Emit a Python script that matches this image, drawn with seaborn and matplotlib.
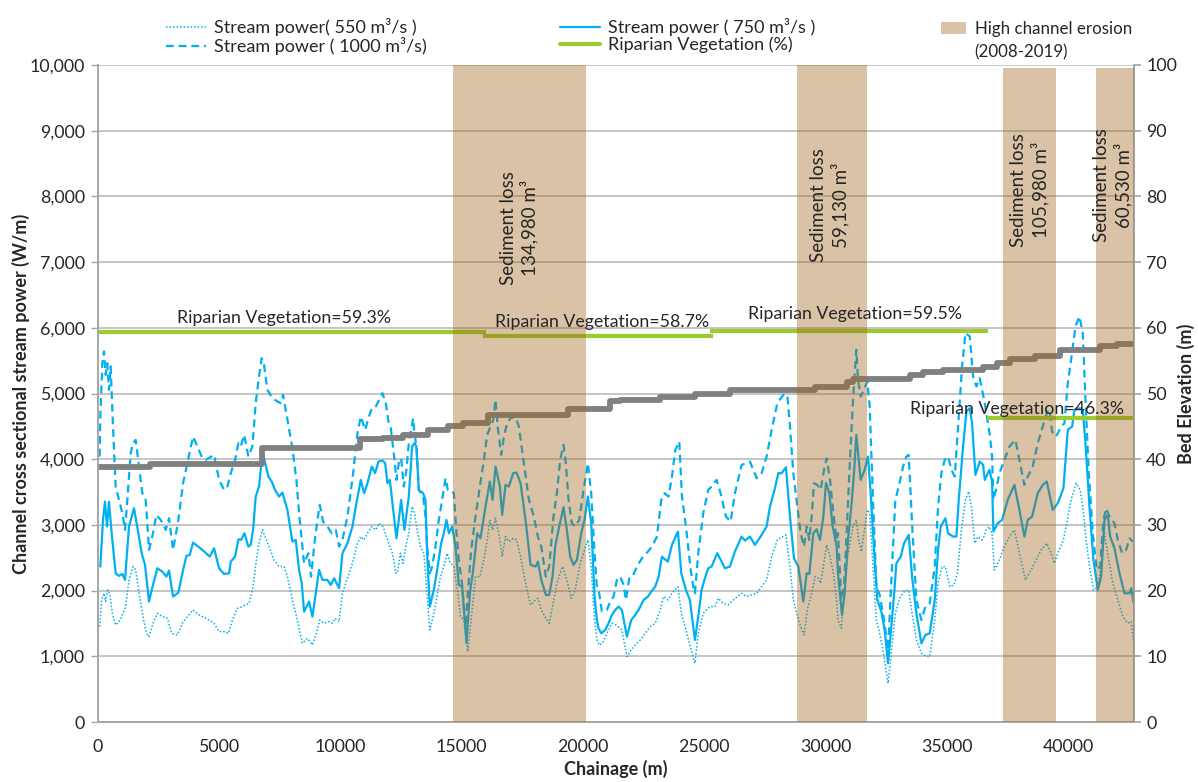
import numpy as np
import pandas as pd
import matplotlib
matplotlib.use("Agg")
import matplotlib.pyplot as plt
import seaborn as sns
from matplotlib.patches import Patch
from matplotlib.lines import Line2D

# ---------------- data ----------------
# Stream power 750 m3/s (solid)
ch_750 = [111, 221, 303, 386, 468, 578, 743, 881, 1018, 1128, 1293, 1499, 1678, 1816, 1953, 2118, 2228, 2462, 2668, 2833,
          2943, 3108, 3328, 3493, 3658, 3796, 3933, 4318, 4621, 4799, 5006, 5212, 5418, 5487, 5666, 5803, 5913, 6051,
          6213, 6309, 6406, 6516, 6653, 6791, 6859, 7038, 7176, 7313, 7478, 7616, 7822, 8028, 8166, 8303, 8413, 8509,
          8716, 8853, 8991, 9128, 9266, 9472, 9609, 9747, 9953, 10091, 10297, 10503, 10641, 10847, 10984, 11122, 11301,
          11438, 11576, 11741, 11851, 11947, 12043,
          12317, 12413, 12510, 12647, 12826, 12963, 13060, 13142, 13238, 13417, 13513, 13582, 13692, 13857, 13995, 14160,
          14270, 14380, 14476, 14613, 14751, 14888, 15026, 15122, 15205, 15342, 15480, 15645, 15782, 15988, 16167, 16277,
          16401, 16580, 16676, 16813, 16951, 17130, 17267, 17432, 17638, 17845, 18051, 18147, 18285,
          18475, 18613, 18750, 18860, 19025, 19204, 19341, 19479, 19616, 19754, 19933, 20070, 20208, 20345, 20483, 20579,
          20648, 20758, 20923, 21060, 21198, 21335, 21473, 21610, 21816, 21995, 22160, 22298, 22504, 22683, 22820, 22985,
          23123, 23260, 23329, 23508, 23673, 23920, 24058, 24250,
          24413, 24619, 24757, 24894, 25032, 25169, 25307, 25540, 25719, 25857, 26063, 26269, 26544, 26682, 26888, 27094,
          27328, 27575, 27713, 27919, 28057, 28194, 28373, 28538, 28703, 28882, 29088, 29226, 29336, 29500, 29638, 29776,
          29913, 30023, 30161, 30298, 30463,
          30517, 30682, 30792, 30930, 31067, 31177, 31273, 31452, 31617, 31754, 31864, 32030, 32140, 32305, 32442, 32580,
          32717, 32855, 32923, 33102, 33240, 33432, 33570, 33748, 33955, 34120, 34298, 34505, 34642, 34752, 34945, 35055,
          35261, 35398, 35495, 35673, 35811, 35948, 36045, 36182, 36361, 36498, 36567,
          36758, 36868, 36923, 37101, 37280, 37514, 37789, 37995, 38201, 38339, 38518, 38751, 38958, 39123, 39370, 39576,
          39810, 39989, 40168, 40264, 40470, 40608, 40718, 40883, 41048, 41226, 41364, 41501, 41639, 41735, 41914, 42120,
          42326, 42533, 42601, 42711]
sp_750 = [2366, 3076, 3355, 2975, 3355, 2873, 2264, 2224, 2254, 2163, 2975, 3254, 2873, 2569, 2391, 1833, 2010, 2340, 2289, 2213,
          2305, 1909, 1970, 2264, 2528, 2543, 2731, 2619, 2518, 2645, 2340, 2254, 2264, 2442, 2518, 2782, 2772, 2873,
          2670, 2696, 2924, 3432, 3584, 4091, 4015, 3736, 3660, 3533, 3432, 3492, 3228, 2746, 2772, 2315, 2112, 1680,
          1833, 1604, 1959, 2315, 2163, 2163, 2086, 2188, 2036, 2569, 2721, 2975, 3279, 3685, 3482, 3635, 3888,
          3787, 3964, 3980, 3939, 3635, 3685,
          2797, 3076, 3381, 2924, 3432, 4193, 4244, 4193, 3533, 3482, 3381, 2569, 1756, 2010, 2315, 2721,
          2873, 3076, 2873, 2975, 2670, 2086, 2061, 1604, 1198, 1959, 2315, 2873, 2797, 3279, 3660, 3381,
          3888, 3584, 3152, 3609, 3584, 3787, 3797, 3635, 3076, 2391, 2366, 2442, 2163,
          1934, 1934, 2213, 2670, 2975, 3269, 2924, 2518, 2391, 2467, 2873, 3076, 3432, 3025, 1909, 1553,
          1426, 1350, 1401, 1503, 1630, 1706, 1756, 1706, 1300, 1553, 1630, 1706, 1858, 1909, 1985, 2061,
          2213, 2518, 2492, 2442, 2696, 2899, 2264, 2010,
          1858, 1249, 1604, 2010, 2188, 2340, 2366, 2569, 2442, 2340, 2366, 2594, 2822, 2761, 2822, 2696,
          2822, 2975, 3279, 3558, 3787, 3787, 3878, 3127, 2492, 2366, 1833, 2264, 2254, 2873, 2934, 2772,
          3127, 3635, 3482, 2975, 2670,
          2264, 1630, 1959, 2772, 3279, 3787, 4370, 3685, 3838, 4041, 3482, 2467, 1858, 1680, 1401, 894,
          1452, 2061, 2416, 2518, 2721, 2848, 2213, 1655, 1198, 1325, 1350, 1858, 2619, 2975, 3102, 2873,
          2822, 2822, 3381, 4193, 4726, 4777, 4548, 3761, 3964, 3914, 3685,
          3838, 3660, 2899, 3025, 3076, 3381, 3609, 3228, 2822, 3076, 3127, 3482, 3609, 3660, 3228, 3330,
          3558, 4447, 4497, 4751, 4777, 4751, 4244, 3279, 2467, 2010, 2213, 3076, 3152, 2822, 2645, 2264,
          1959, 1959, 2036, 1807]

# Stream power 1000 m3/s (dashed)
ch_1000 = [83, 111, 193, 262, 331, 399, 468, 537, 633, 743, 881, 1018, 1128, 1224, 1362, 1458, 1568, 1706, 1843, 1981,
           2118, 2283, 2421, 2599, 2806, 2943, 3108, 3328, 3521, 3699, 3933, 4112, 4318, 4456, 4799, 5006, 5212, 5349,
           5487, 5666, 5803, 5899, 6037,
           6103, 6213, 6378, 6516, 6653, 6763, 6859, 6997, 7203, 7409, 7547, 7643, 7822, 8028, 8193, 8303, 8413, 8509,
           8688, 8798, 8922, 9059, 9156, 9293, 9472, 9651, 9816, 9953, 10091, 10297, 10531, 10709, 10847, 11026, 11163,
           11301, 11466, 11603, 11741, 11878, 11988, 12084, 12222,
           12317, 12413, 12510, 12620, 12729, 12826, 12922, 13005, 13060, 13142, 13238, 13417, 13513, 13582, 13692,
           13788, 13926, 14063, 14201, 14338, 14435, 14545, 14682, 14792, 14888, 15026, 15163, 15260, 15397, 15576,
           15755, 15920, 16057, 16195, 16305, 16401, 16497, 16635, 16745, 16882, 17020, 17226, 17363, 17570, 17776,
           17982, 18147, 18285,
           18475, 18613, 18791, 18929, 19066, 19204, 19300, 19410, 19548, 19685, 19850, 20029, 20208, 20345, 20483,
           20579, 20675, 20785, 20991, 21129, 21266, 21404, 21541, 21679, 21775, 21913, 22050, 22229, 22435, 22683,
           22848, 23054, 23233, 23370, 23535, 23673, 23810, 23975, 24085, 24250, 24429,
           24551, 24619, 24757, 24963, 25169, 25307, 25513, 25678, 25898, 26091, 26269, 26544, 26751, 26888, 27026,
           27163, 27369, 27576, 27782, 28016, 28263, 28428, 28538, 28676, 28841, 28978, 29116, 29226, 29336, 29432,
           29528, 29666, 29803, 29941, 30051, 30188, 30326, 30463,
           30517, 30655, 30765, 30861, 30998, 31136, 31273, 31342, 31452, 31590, 31727, 31823, 31961, 32098, 32236,
           32415, 32580, 32745, 32882, 33020, 33198, 33336, 33432, 33570, 33748, 33955, 34120, 34298, 34505, 34642,
           34780, 34917, 35055, 35192, 35330, 35467, 35632, 35770, 35948, 36086, 36223, 36361, 36567,
           36785, 36868, 36923, 37033, 37170, 37376, 37583, 37830, 37995, 38201, 38339, 38545, 38751, 38958, 39123,
           39233, 39343, 39508, 39714, 39851, 39989, 40126, 40305, 40470, 40608, 40718, 40855, 41020, 41185, 41323,
           41460, 41570, 41708, 41914, 42051, 42230, 42395, 42533, 42670]
sp_1000 = [4041, 4650, 5462, 5640, 5284, 5462, 5056, 5411, 4497, 3584, 3381, 3178, 2924, 3381, 4091, 4244, 4294, 3888, 3482, 3381,
           2619, 2873, 3152, 3076, 2924, 3102, 2619, 3076, 3635, 3939, 4345, 4193, 4015, 3990, 4066, 3685, 3533, 3584,
           3787, 3990, 4244, 4193, 4371,
           4244, 4041, 4193, 4853, 5259, 5538, 5437, 5056, 4929, 4878, 4853, 4980, 4599, 4168, 3685, 3178, 2772, 2416,
           2569, 2213, 2670, 3076, 3305, 3051, 2975, 2873, 2924, 2670, 2772, 3127, 3787, 4396, 4650, 4447, 4624,
           4777, 4802, 4904, 5005, 4853, 4574, 4472, 4041,
           3685, 3939, 4015, 3584, 3838, 4244, 4447, 4624, 4396, 4193, 3533, 3432, 3127, 2670, 2264,
           2366, 2670, 3076, 3381, 3711, 3533, 3533, 3482, 2873, 2467, 2086, 1452, 1959, 2619, 3127,
           3584, 3990, 4371, 4497, 4599, 4904, 4472, 4066, 4345, 4548, 4624, 4650, 4497, 3939, 3381,
           3127, 2822, 2670,
           2213, 2366, 3127, 3482, 3990, 4218, 3939, 3381, 3025, 2975, 3076, 3533, 3939, 3482, 2569,
           2061, 1959, 1680, 1706, 1833, 1909, 2163, 2213, 2086, 1858, 2188, 2213, 2366, 2492, 2594,
           2670, 2822, 3381, 3482, 3432, 3736, 4142, 4269, 3432, 2975, 2366,
           2061, 1959, 2569, 3178, 3533, 3584, 3685, 3482, 3127, 3051, 3482, 3914, 3939, 3964, 3838,
           3711, 3787, 4041, 4447, 4853, 4980, 4980, 4497, 3787, 3279, 2873, 2670, 2975, 2772, 3127,
           3635, 3609, 3533, 3838, 4015, 3685, 3178, 2772,
           2873, 1858, 2061, 2772, 3888, 4904, 5665, 5208, 4954, 5056, 5183, 4802, 3381, 2061, 1934,
           1553, 1097, 2366, 3381, 3584, 3888, 4041, 4066, 3025, 1858, 1553, 1756, 1807, 2366, 3279,
           3787, 3990, 4041, 3838, 3736, 4497, 5411, 5919, 5868, 5259, 5107, 5233, 4853,
           4345, 4041, 3381, 3533, 3787, 3990, 4193, 4294, 3990, 3609, 3736, 3888, 4244, 4497, 4701,
           4751, 4421, 4345, 4497, 4548, 5157, 5513, 6020, 6173, 5919, 4904, 3787, 2873, 2315, 2366,
           3076, 3254, 3127, 3025, 2772, 2569, 2619, 2797, 2746]

# Stream power 550 m3/s (dotted)
ch_550 = [83, 166, 262, 331, 413, 496, 606, 743, 881, 1046, 1156, 1293, 1458, 1568, 1706, 1871, 2008, 2118, 2283, 2462,
          2668, 2874, 3053, 3287, 3493, 3699, 3933, 4181, 4456, 4799, 5006, 5212, 5391, 5556, 5762, 5968,
          6241, 6406, 6543, 6653, 6791, 6928, 7093, 7272, 7478, 7684, 7822, 8028, 8166, 8303, 8441, 8647, 8853, 9018,
          9156, 9334, 9541, 9678, 9788, 9953, 10091, 10297, 10503, 10709, 10847, 10984, 11122, 11301, 11466, 11603,
          11768, 11947, 12043, 12153, 12291,
          12345, 12482, 12592, 12688, 12826, 12963, 13060, 13170, 13307, 13445, 13582, 13692, 13830, 13967, 14132,
          14270, 14407, 14545, 14682, 14847, 14957, 15095, 15260, 15397, 15576, 15755, 15920, 16057, 16167, 16277,
          16401, 16580, 16676, 16813, 16951, 17130, 17267, 17432, 17638, 17845, 18051, 18147, 18285,
          18475, 18613, 18750, 18929, 19163, 19341, 19520, 19685, 19891, 20070, 20208, 20345, 20483, 20579, 20675,
          20813, 20991, 21198, 21363, 21610, 21816, 21995, 22160, 22366, 22573, 22779, 22985, 23191, 23329, 23508,
          23673, 23920, 24058, 24250, 24429,
          24619, 24757, 24963, 25238, 25444, 25582, 25788, 25994, 26201, 26544, 26751, 26957, 27163, 27369, 27576,
          27782, 28016, 28194, 28373, 28538, 28676, 28813, 28978, 29116, 29253, 29432, 29569, 29707, 29803, 29913,
          30051, 30188, 30326, 30463,
          30517, 30655, 30792, 30930, 31136, 31273, 31370, 31480, 31590, 31727, 31823, 31961, 32098, 32236, 32415,
          32580, 32717, 32882, 33061, 33240, 33432, 33570, 33748, 33955, 34120, 34298, 34505, 34642, 34807, 34945,
          35123, 35302, 35440, 35605, 35770, 35907, 36017, 36155, 36292, 36457, 36567,
          36620, 36758, 36868, 36964, 37170, 37376, 37583, 37789, 37995, 38243, 38476, 38683, 38889, 39123, 39301,
          39439, 39576, 39810, 39920, 40126, 40333, 40498, 40608, 40745, 40883, 41048, 41226, 41364, 41501, 41680,
          41845, 42051, 42258, 42464, 42601, 42711]
sp_550 = [1452, 1858, 1959, 1833, 2010, 1959, 1655, 1477, 1528, 1655, 1756, 2163, 2366, 2315, 1959, 1604, 1350, 1300, 1503, 1655,
          1604, 1579, 1350, 1325, 1503, 1604, 1706, 1630, 1579, 1503, 1376, 1376, 1350, 1553, 1731, 1756,
          1807, 2061, 2467, 2721, 2924, 2797, 2645, 2467, 2366, 2366, 2213, 1858, 1655, 1426, 1198, 1274, 1173, 1350,
          1553, 1503, 1528, 1503, 1579, 1528, 1959, 2188, 2416, 2721, 2822, 2772, 2873, 2975, 2924, 3025,
          2975, 2772, 2670, 2569, 2264,
          2264, 2569, 2416, 2645, 2873, 3279, 3178, 2924, 2670, 2569, 1909, 1401, 1604, 1858, 2213,
          2366, 2569, 2416, 2366, 1959, 1604, 1553, 1071, 1553, 2213, 2213, 2467, 2772, 3076, 2924,
          3102, 2772, 2518, 2822, 2746, 2797, 2772, 2518, 2112, 1782, 1858, 1883, 1706,
          1579, 1503, 1756, 2112, 2366, 2163, 1883, 2010, 2416, 2619, 2772, 2366, 1553, 1249, 1173,
          1198, 1350, 1503, 1477, 1401, 995, 1097, 1173, 1249, 1350, 1452, 1503, 1706, 1909, 1858,
          1959, 2061, 1655, 1401, 1148,
          894, 1350, 1655, 1756, 1756, 1883, 1807, 1782, 1858, 1959, 1909, 1934, 1959, 2061, 2163,
          2518, 2772, 2812, 2848, 2366, 1858, 1655, 1452, 1325, 1706, 1959, 2213, 2188, 2112, 2366,
          2696, 2518, 2264, 1858,
          1553, 1426, 2061, 2569, 2975, 3076, 2772, 2594, 2873, 3228, 3178, 2366, 1553, 1350, 995,
          589, 1046, 1655, 1883, 1985, 2010, 1655, 1249, 1046, 1005, 995, 1553, 2112, 2366, 2366,
          2061, 2086, 2264, 2924, 3381, 3508, 3279, 2721, 2822, 2772, 2848,
          2924, 2975, 2873, 2315, 2467, 2670, 2822, 2924, 2569, 2163, 2315, 2467, 2619, 2721, 2569,
          2416, 2569, 2772, 2975, 3381, 3635, 3533, 3279, 2772, 2366, 2010, 2061, 2366, 2873, 2467,
          2112, 1858, 1604, 1503, 1528, 1198]

# Bed elevation (m), step profile
bed_ch = [0, 2144, 6763, 10804, 11750, 12577, 13608, 14433, 15052, 16082, 19400, 21110, 21530, 23175, 24620, 26060,
          29570, 30890, 31130, 33480, 34020, 34850, 36490, 37070, 37610, 38640, 39670, 41320, 42020, 42700]
bed_el = [38.8, 39.3, 41.7, 43.1, 43.3, 43.7, 44.4, 45.0, 45.5, 46.7, 47.7, 48.8, 49.0, 49.5, 49.9, 50.6,
          51.0, 51.8, 52.2, 52.8, 53.2, 53.6, 54.1, 54.7, 55.2, 55.7, 56.6, 57.2, 57.6, 57.6]

# Riparian vegetation (%) segments
rip_start = [0, 15890, 25260, 36640]
rip_end = [15990, 25370, 36700, 42700]
rip_val = [59.3, 58.7, 59.5, 46.3]
rip_labels = ["Riparian Vegetation=59.3%", "Riparian Vegetation=58.7%",
              "Riparian Vegetation=59.5%", "Riparian Vegetation=46.3%"]

# High channel erosion zones
ero_start = [14660, 28810, 37300, 41150]
ero_end = [20140, 31700, 39520, 42700]
ero_top = [10000, 10000, 9960, 9960]
ero_loss = ["134,980", "59,130", "105,980", "60,530"]

x_ticks = [0, 5000, 10000, 15000, 20000, 25000, 30000, 35000, 40000]
y_ticks = [0, 1000, 2000, 3000, 4000, 5000, 6000, 7000, 8000, 9000, 10000]
y2_ticks = [0, 10, 20, 30, 40, 50, 60, 70, 80, 90, 100]

# ---------------- style ----------------
sns.set_theme(style="white")
plt.rcParams["font.family"] = ["Lato", "DejaVu Sans"]
BLUE = "#00B0F0"
GREEN = "#9BCB2E"
GRAY = "#808080"
AXC = "#A6A6A6"
TXT = "#262626"

fig = plt.figure(figsize=(11.98, 7.82), dpi=100)
ax = fig.add_axes([0.0815, 0.0767, 0.8647, 0.8402])

ax.grid(axis="y", color="#C0C0C0", lw=1.3, zorder=0)
ax.set_axisbelow(True)

sns.lineplot(x=ch_550, y=sp_550, ax=ax, color=BLUE, lw=1.1, linestyle=(0, (1, 1.3)), errorbar=None, sort=False)
sns.lineplot(x=ch_1000, y=sp_1000, ax=ax, color=BLUE, lw=1.6, linestyle=(0, (3.5, 2.2)), errorbar=None, sort=False)
sns.lineplot(x=ch_750, y=sp_750, ax=ax, color=BLUE, lw=1.6, errorbar=None, sort=False)

ax.set_xlim(0, 42700)
ax.set_ylim(0, 10000)
ax.set_xticks(x_ticks)
ax.set_xticklabels([str(v) for v in x_ticks])
ax.set_yticks(y_ticks)
ax.set_yticklabels([f"{v:,}" for v in y_ticks])
ax.tick_params(axis="both", labelsize=12.8, colors=TXT, length=5, width=1, direction="out")
ax.tick_params(axis="x", color=AXC, pad=7)
ax.tick_params(axis="y", color=AXC, pad=4)
ax.spines["top"].set_visible(False)
for s in ["left", "bottom", "right"]:
    ax.spines[s].set_color(AXC)
    ax.spines[s].set_linewidth(1.2)
ax.set_xlabel("Chainage (m)", fontsize=13, fontweight="bold", color=TXT, labelpad=4)
ax.set_ylabel("Channel cross sectional stream power (W/m)", fontsize=13, fontweight="bold", color=TXT, labelpad=0)

# right axis: bed elevation and riparian vegetation
ax2 = ax.twinx()
sns.lineplot(x=bed_ch, y=bed_el, ax=ax2, color=GRAY, lw=4.2, drawstyle="steps-post", errorbar=None, sort=False)
ax2.hlines(rip_val, rip_start, rip_end, color=GREEN, lw=3)
ax2.set_ylim(0, 100)
ax2.set_yticks(y2_ticks)
ax2.set_yticklabels([str(v) for v in y2_ticks])
ax2.tick_params(axis="y", labelsize=12.8, colors=TXT, length=5, direction="out", color=AXC, pad=4)
ax2.spines["top"].set_visible(False)
for s in ["left", "bottom", "right"]:
    ax2.spines[s].set_color(AXC)
    ax2.spines[s].set_linewidth(1.2)
ax2.set_ylabel("Bed Elevation (m)", fontsize=13, fontweight="bold", color=TXT, labelpad=0)

# top layer: erosion zones and annotations
ax3 = ax.twinx()
ax3.set_ylim(0, 10000)
ax3.set_axis_off()
ero_w = [e - s for s, e in zip(ero_start, ero_end)]
ax3.bar(ero_start, ero_top, width=ero_w, align="edge", color="#9F641B", alpha=0.394, lw=0, zorder=2)

rip_tx = [7680, 20790, 31210, 37890]
rip_ty = [61.5, 60.9, 62.1, 47.6]
for x, y, t in zip(rip_tx, rip_ty, rip_labels):
    ax3.text(x, y, t, transform=ax2.transData, ha="center", va="center", fontsize=12.8, color=TXT, zorder=5)

ero_tx = [17370, 30180, 38420, 41840]
ero_ty = [7520, 7870, 8100, 8170]
for x, y, l in zip(ero_tx, ero_ty, ero_loss):
    ax3.text(x, y, f"Sediment loss\n{l} m\u00b3", rotation=90, ha="center", va="center",
             multialignment="center", fontsize=13.5, color=TXT, zorder=5, linespacing=1.2)

# legends
h550 = Line2D([], [], color=BLUE, lw=1.1, linestyle=(0, (1, 1.3)))
h750 = Line2D([], [], color=BLUE, lw=1.6)
h1000 = Line2D([], [], color=BLUE, lw=1.6, linestyle=(0, (3.5, 2.2)))
hrip = Line2D([], [], color=GREEN, lw=3)
fig.legend(handles=[h550, h1000, h750, hrip],
           labels=["Stream power( 550 m\u00b3/s )", "Stream power ( 1000 m\u00b3/s)",
                   "Stream power ( 750 m\u00b3/s )", "Riparian Vegetation (%)"],
           ncol=2, loc="upper left", bbox_to_anchor=(166 / 1198, 1 - 18 / 782), frameon=False,
           fontsize=13, handlelength=2.2, handletextpad=0.45, columnspacing=7.4, labelspacing=0.05,
           borderpad=0, borderaxespad=0, labelcolor=TXT)
fig.legend(handles=[Patch(facecolor="#D9C2A5", edgecolor="none")], labels=["High channel erosion"],
           loc="upper left", bbox_to_anchor=(941 / 1198, 1 - 21 / 782), frameon=False, fontsize=12.2,
           handlelength=1.5, handleheight=0.75, handletextpad=0.5, borderpad=0, borderaxespad=0, labelcolor=TXT)
fig.text(974 / 1198, 1 - 52 / 782, "(2008-2019)", fontsize=12.2, color=TXT, ha="left", va="center")

fig.savefig("out.png", dpi=100)
